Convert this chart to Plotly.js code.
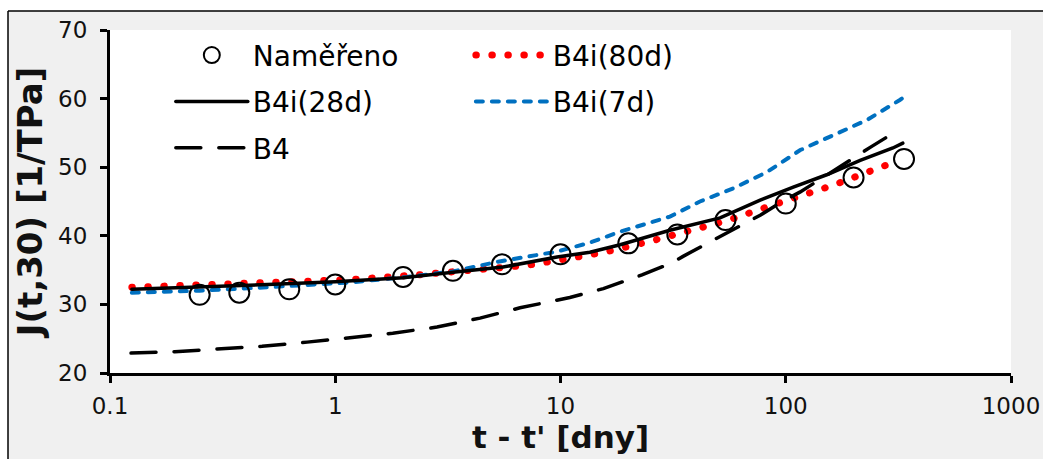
<!DOCTYPE html>
<html>
<head>
<meta charset="utf-8">
<script src="https://cdn.plot.ly/plotly-3.0.1.min.js"></script>
<style>
  html, body { margin: 0; padding: 0; background: #ffffff; }
  #chart { width: 1043px; height: 459px; }
  path.js-line { stroke-linecap: round; }
</style>
</head>
<body>
<div id="chart"></div>
<script>
// Measured data (Naměřeno)
const tMeasured = [0.25, 0.375, 0.625, 1, 2, 3.33, 5.5, 10, 20, 33, 54, 100, 200, 335];
const jMeasured = [31.4, 31.7, 32.2, 32.9, 34.0, 34.9, 35.85, 37.3, 38.9, 40.2, 42.3, 44.7, 48.5, 51.2];

// B4i(80d)
const t80 = [0.125, 0.25, 0.5, 1.16, 2.31, 4.39, 7.1, 11.4, 16.1, 25, 40.4, 54.8, 74.5, 87, 118, 160, 214, 290];
const j80 = [32.5, 32.8, 33.1, 33.6, 34.3, 35.0, 35.7, 36.8, 37.7, 39.2, 41.0, 42.2, 43.7, 44.5, 45.9, 47.3, 48.9, 50.5];

// B4i(28d)
const t28 = [0.125, 0.25, 0.5, 1, 2, 3.33, 5.56, 9.65, 13.5, 18.4, 30.6, 51.1, 77, 108, 152, 214, 299, 331];
const j28 = [32.2, 32.5, 32.9, 33.3, 33.9, 34.7, 35.45, 36.9, 37.6, 38.7, 40.8, 42.6, 45.2, 47.1, 48.9, 51.0, 52.8, 53.5];

// B4i(7d)
const t7 = [0.125, 0.25, 0.5, 1.16, 2.08, 3.33, 5.23, 9.65, 13.5, 18.4, 30.6, 41.6, 58.3, 82.6, 116, 162, 230, 321, 331];
const j7 = [31.7, 32.0, 32.5, 33.2, 34.0, 34.8, 36.2, 37.7, 39.0, 40.6, 42.8, 45.0, 46.9, 49.3, 52.5, 54.7, 56.9, 59.8, 60.1];

// B4
const tB4 = [0.124, 0.194, 0.299, 0.473, 0.75, 1.16, 1.8, 2.83, 4.39, 6.61, 11, 15.5, 20, 23, 31, 35, 46, 52, 67, 77, 99, 116, 160, 214, 240, 312];
const jB4 = [22.9, 23.1, 23.5, 23.9, 24.5, 25.1, 25.8, 26.7, 28.0, 29.5, 31.0, 32.3, 33.6, 34.3, 36.0, 37.0, 39.1, 40.0, 42.0, 43.0, 45.2, 46.4, 49.3, 52.0, 53.0, 55.3];

// Axis ticks
const xTickVals = [0.1, 1, 10, 100, 1000];
const xTickText = ['0.1', '1', '10', '100', '1000'];
const yTickVals = [20, 30, 40, 50, 60, 70];

const FONT = 'DejaVu Sans, Verdana, sans-serif';

const traces = [
  {
    x: t80, y: j80, name: 'B4i(80d)', mode: 'lines', type: 'scatter',
    line: {color: '#ff0000', width: 7, dash: '0.5px,15.5px'},
    legend: 'legend2', legendgroup: 'g80', legendrank: 1
  },
  {
    x: t7, y: j7, name: 'B4i(7d)', mode: 'lines', type: 'scatter',
    line: {color: '#0070c0', width: 4, dash: '7px,9px'},
    legend: 'legend2', legendgroup: 'g7', legendrank: 2
  },
  {
    x: tB4, y: jB4, name: 'B4', mode: 'lines', type: 'scatter',
    line: {color: '#000000', width: 3.5, dash: '25px,18px'},
    legend: 'legend', legendgroup: 'gB4', legendrank: 3
  },
  {
    x: t28, y: j28, name: 'B4i(28d)', mode: 'lines', type: 'scatter',
    line: {color: '#000000', width: 3.5},
    legend: 'legend', legendgroup: 'g28', legendrank: 2
  },
  {
    x: tMeasured, y: jMeasured, name: 'Naměřeno', mode: 'markers', type: 'scatter',
    marker: {symbol: 'circle-open', size: 20, color: '#000000', line: {width: 2, color: '#000000'}},
    legend: 'legend', legendgroup: 'gM', legendrank: 1
  }
];

const legendCommon = {
  font: {family: FONT, size: 28, color: '#000000'},
  bgcolor: 'rgba(0,0,0,0)',
  borderwidth: 0,
  itemwidth: 72,
  tracegroupgap: 7,
  traceorder: 'grouped',
  xanchor: 'left', yanchor: 'top'
};

const layout = {
  width: 1043, height: 459,
  margin: {l: 110, r: 32, t: 30, b: 86, pad: 0},
  paper_bgcolor: '#f0f0f0',
  plot_bgcolor: '#ffffff',
  font: {family: FONT, color: '#000000'},
  showlegend: true,
  legend: Object.assign({}, legendCommon, {x: 0.0675, y: 0.999}),
  legend2: Object.assign({}, legendCommon, {x: 0.4005, y: 0.999}),
  xaxis: {
    type: 'log',
    range: [-1, 3],
    tickmode: 'array', tickvals: xTickVals, ticktext: xTickText,
    showgrid: false, zeroline: false,
    showline: true, linecolor: '#000000', linewidth: 3,
    ticks: 'outside', ticklen: 7, tickwidth: 3, tickcolor: '#000000',
    tickfont: {family: FONT, size: 23, color: '#111111'},
    ticklabelstandoff: 3,
    title: {text: "t - t' [dny]", font: {family: FONT, size: 31, color: '#111111', weight: 'bold'}, standoff: 9},
    mirror: false
  },
  yaxis: {
    range: [20, 70],
    tickmode: 'array', tickvals: yTickVals,
    showgrid: false, zeroline: false,
    showline: true, linecolor: '#000000', linewidth: 3,
    ticks: 'outside', ticklen: 7, tickwidth: 3, tickcolor: '#000000',
    tickfont: {family: FONT, size: 23, color: '#111111'},
    ticklabelstandoff: 8,
    title: {text: 'J(t,30) [1/TPa]', font: {family: FONT, size: 34, color: '#111111', weight: 'bold'}, standoff: 6},
    mirror: false
  },
  shapes: [
    // white strips outside the framed figure (top and left)
    {type: 'rect', xref: 'paper', yref: 'paper', x0: -0.2, x1: 1.1, y0: 1.0554, y1: 1.2, fillcolor: '#ffffff', line: {width: 0}, layer: 'below'},
    {type: 'rect', xref: 'paper', yref: 'paper', x0: -0.2, x1: -0.1132, y0: -0.3, y1: 1.2, fillcolor: '#ffffff', line: {width: 0}, layer: 'below'},
    // frame border lines
    {type: 'line', xref: 'paper', yref: 'paper', x0: -0.1132, x1: 1.1, y0: 1.0554, y1: 1.0554, line: {color: '#000000', width: 1.5}, layer: 'below'},
    {type: 'line', xref: 'paper', yref: 'paper', x0: -0.1132, x1: -0.1132, y0: -0.3, y1: 1.0554, line: {color: '#000000', width: 1.5}, layer: 'below'}
  ]
};

Plotly.newPlot('chart', traces, layout, {displayModeBar: false, staticPlot: true});
</script>
</body>
</html>
